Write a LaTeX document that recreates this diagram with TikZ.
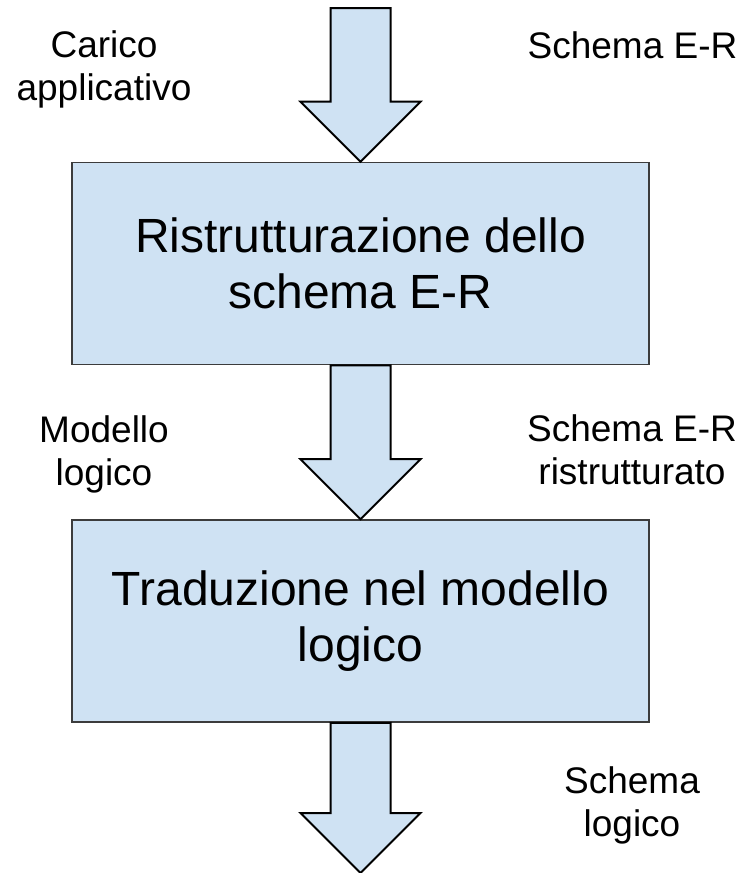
\documentclass[tikz,border=0pt]{standalone}
\usepackage{fontspec}
\setmainfont{Liberation Sans}
\usetikzlibrary{calc}

\definecolor{boxblue}{HTML}{CFE2F3}
\definecolor{boxline}{HTML}{3C3C3C}

\begin{document}
\begin{tikzpicture}[
  x=1pt, y=-1pt,
  every node/.style={align=center},
  stage/.style={rectangle, draw=boxline, line width=1.6pt, fill=boxblue, minimum width=577pt, minimum height=202pt, inner sep=0pt, font=\fontsize{48}{56}\selectfont},
  note/.style={inner sep=0pt, font=\fontsize{37}{43}\selectfont},
  flow/.style={draw=black, line width=2pt, fill=boxblue, line join=miter,
    to path={let \p1=(\tikztostart), \p2=(\tikztotarget) in
      (\x1-30pt,\y1) -- (\x1-30pt,\y2+60pt) -- (\x1-60pt,\y2+60pt) -- (\x2,\y2)
      -- (\x1+60pt,\y2+60pt) -- (\x1+30pt,\y2+60pt) -- (\x1+30pt,\y1) -- cycle}}
]
\useasboundingbox (0,0) rectangle (745,873);

% --- PROCESS BOXES ---
\node[stage] (restructure) at (360.5,263.5) {Ristrutturazione dello\\ schema E-R};
\node[stage] (translate) at (360.5,621) {Traduzione nel modello\\ logico};

% --- FREE ENDS ---
\coordinate (source) at (360.5,8);
\coordinate (sink) at (360.5,873);

% --- INPUT / OUTPUT LABELS ---
\node[note] (workload) at (104,69.5) {Carico\\ applicativo};
\node[note, anchor=base] (erin) at (632.5,58) {Schema E-R};
\node[note] (logicmodel) at (104,454) {Modello\\ logico};
\node[note] (erout) at (632,450) {Schema E-R\\ ristrutturato};
\node[note] (logicschema) at (632,805.5) {Schema\\ logico};

% --- BLOCK ARROWS ---
\draw[flow] (source) to (restructure.north);
\draw[flow] (restructure.south) to (translate.north);
\draw[flow] (translate.south) to (sink);

\end{tikzpicture}
\end{document}
